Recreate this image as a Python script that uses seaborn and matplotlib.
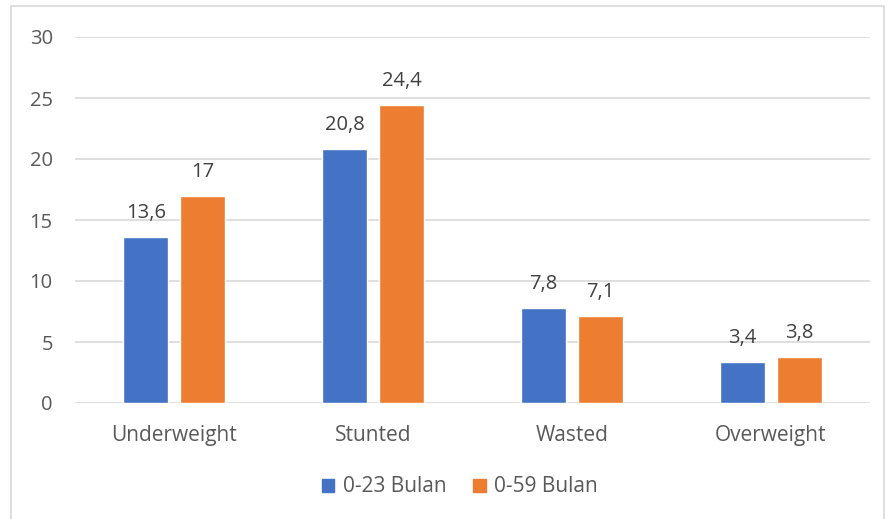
import matplotlib.pyplot as plt
from matplotlib.patches import Rectangle
import pandas as pd
import seaborn as sns

categories = ['Underweight', 'Stunted', 'Wasted', 'Overweight']
series_names = ['0-23 Bulan', '0-59 Bulan']
vals_0_23 = [13.6, 20.8, 7.8, 3.4]
vals_0_59 = [17.0, 24.4, 7.1, 3.8]
y_ticks = [0, 5, 10, 15, 20, 25, 30]

colors = ['#4472C4', '#ED7D31']
text_color = '#595959'

df = pd.DataFrame({
    'kategori': categories * 2,
    'kelompok': [series_names[0]] * 4 + [series_names[1]] * 4,
    'nilai': vals_0_23 + vals_0_59,
})

sns.set_theme(style='white')
plt.rcParams['font.family'] = ['Open Sans', 'DejaVu Sans']

fig = plt.figure(figsize=(8.86, 5.19), dpi=100)
ax = fig.add_axes([75 / 886, 1 - 403 / 519, (870 - 75) / 886, (403 - 37) / 519])

sns.barplot(data=df, x='kategori', y='nilai', hue='kelompok', order=categories,
            hue_order=series_names, palette=colors, width=0.573, gap=0.21,
            saturation=1, ax=ax, legend=False)

# label nilai di atas batang (format koma desimal)
for container in ax.containers:
    labels = []
    for bar in container:
        v = bar.get_height()
        s = f'{v:g}'.replace('.', ',')
        labels.append(s)
    ax.bar_label(container, labels=labels, padding=10, fontsize=14.5, color='#404040')

ax.set_ylim(0, 30)
ax.set_yticks(y_ticks)
ax.set_xlim(-0.5, 3.5)
ax.yaxis.grid(True, color='#D9D9D9', linewidth=1.2)
ax.set_axisbelow(True)
for s in ax.spines.values():
    s.set_visible(False)
ax.set_xlabel('')
ax.set_ylabel('')
ax.tick_params(axis='both', length=0, labelsize=14.5, labelcolor=text_color)
ax.tick_params(axis='x', labelsize=15)
ax.tick_params(axis='y', pad=16)
ax.tick_params(axis='x', pad=16)
for lbl in ax.get_yticklabels():
    lbl.set_horizontalalignment('right')

handles = [Rectangle((0, 0), 1, 1, color=c) for c in colors]
fig.legend(handles, series_names, loc='center', bbox_to_anchor=(460 / 886, 1 - 487 / 519),
           ncol=2, frameon=False, fontsize=15, labelcolor=text_color,
           handlelength=0.6, handleheight=0.6, handletextpad=0.4, columnspacing=1.3)

# bingkai luar
fig.add_artist(Rectangle((11 / 886, -0.01), (884 - 11) / 886, 1 - 6 / 519 + 0.01,
                         transform=fig.transFigure, fill=False, edgecolor='#D9D9D9', linewidth=1.2))

fig.savefig('out.png', dpi=100)
